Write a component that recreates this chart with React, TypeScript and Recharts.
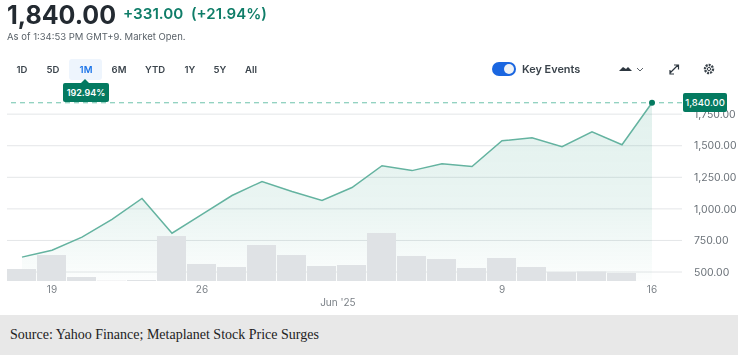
import {
  Area,
  Bar,
  CartesianGrid,
  ComposedChart,
  ReferenceDot,
  ReferenceLine,
  XAxis,
  YAxis,
} from "recharts";

const FONT = "Inter, 'Noto Sans', sans-serif";

const RANGES = ["1D", "5D", "1M", "6M", "YTD", "1Y", "5Y", "All"];
const RANGE_CENTERS = [22, 53, 86, 119, 155, 190, 220, 251];

const PRICES = [
  618, 673, 776, 917, 1083, 807, 957, 1106, 1217, 1138, 1067, 1169, 1342, 1303,
  1358, 1335, 1539, 1563, 1492, 1610, 1508, 1840,
];
// volume read as relative bar height, last session has no bar yet
const VOLUMES = [
  12, 26, 4, 0.3, 1, 45, 17, 14, 36, 26, 15, 16, 48, 25, 22, 13, 23, 14, 9, 9.5,
  8, 0,
];
const PRICE_TICKS = [500, 750, 1000, 1250, 1500, 1750];
const DATE_TICKS = [1, 6, 10.53, 16, 21];
const DATE_LABELS: Record<number, string> = {
  1: "19",
  6: "26",
  10.53: "Jun '25",
  16: "9",
  21: "16",
};

const chartData = PRICES.map((price, i) => ({
  idx: i,
  price,
  volume: VOLUMES[i],
}));

const formatPrice = (v: number) =>
  v.toLocaleString("en-US", { minimumFractionDigits: 2 });

function DateTick({ x, y, payload }: any) {
  const isMonth = payload.value === 10.53;
  return (
    <text
      x={x}
      y={isMonth ? y + 17 : y + 4}
      textAnchor="middle"
      fontSize={10}
      fontFamily={FONT}
      fill="#7b8187"
    >
      {DATE_LABELS[payload.value]}
    </text>
  );
}

function Header() {
  return (
    <>
      <div
        style={{
          position: "absolute",
          left: 7,
          top: 1,
          fontSize: 25,
          lineHeight: "28px",
          fontWeight: 700,
          color: "#232a31",
        }}
      >
        1,840.00
      </div>
      <div
        style={{
          position: "absolute",
          left: 123,
          top: 4,
          fontSize: 15.2,
          lineHeight: "20px",
          fontWeight: 600,
          color: "#0f7d68",
        }}
      >
        +331.00
      </div>
      <div
        style={{
          position: "absolute",
          left: 191,
          top: 4,
          fontSize: 15,
          lineHeight: "20px",
          fontWeight: 600,
          color: "#0f7d68",
        }}
      >
        (+21.94%)
      </div>
      <div
        style={{
          position: "absolute",
          left: 7,
          top: 30,
          fontSize: 9.5,
          lineHeight: "13px",
          color: "#5b636a",
        }}
      >
        As of 1:34:53 PM GMT+9. Market Open.
      </div>
    </>
  );
}

function RangeRow() {
  return (
    <>
      <div
        style={{
          position: "absolute",
          left: 69,
          top: 59,
          width: 33,
          height: 21,
          background: "#eef5fd",
          borderRadius: 3,
        }}
      />
      {RANGES.map((r, i) => (
        <div
          key={r}
          style={{
            position: "absolute",
            left: RANGE_CENTERS[i] - 20,
            width: 40,
            top: 62,
            textAlign: "center",
            fontSize: 9.5,
            lineHeight: "15px",
            fontWeight: 600,
            color: r === "1M" ? "#1a73e8" : "#3b444c",
          }}
        >
          {r}
        </div>
      ))}
    </>
  );
}

function Toolbar() {
  return (
    <>
      <div
        style={{
          position: "absolute",
          left: 492,
          top: 62,
          width: 24,
          height: 14,
          borderRadius: 7,
          background: "#1a66e0",
        }}
      />
      <div
        style={{
          position: "absolute",
          left: 504,
          top: 64,
          width: 10,
          height: 10,
          borderRadius: 5,
          background: "#eef2f7",
        }}
      />
      <div
        style={{
          position: "absolute",
          left: 522,
          top: 62,
          fontSize: 10.9,
          lineHeight: "15px",
          fontWeight: 600,
          color: "#3b444c",
        }}
      >
        Key Events
      </div>
      <svg
        style={{ position: "absolute", left: 615, top: 60 }}
        width={110}
        height={20}
        viewBox="0 0 110 20"
      >
        <path d="M4 11 L8 7 L11 9 L13 7 L17 11 Z" fill="#2c363f" />
        <path d="M22 8 L25 11 L28 8" fill="none" stroke="#5b636a" strokeWidth={1} />
        <path
          d="M55 13 L63 5 M55 10 V14 H59 M59 5 H63.5 V9.5"
          fill="none"
          stroke="#2c363f"
          strokeWidth={1.2}
        />
        <circle cx={94} cy={9} r={4} fill="none" stroke="#3b444c" strokeWidth={2.4} strokeDasharray="2 1" />
        <circle cx={94} cy={9} r={1.6} fill="none" stroke="#3b444c" strokeWidth={1} />
      </svg>
    </>
  );
}

export default function App() {
  return (
    <div
      style={{
        position: "absolute",
        left: 0,
        top: 0,
        width: 738,
        height: 355,
        overflow: "hidden",
        background: "#fff",
        fontFamily: FONT,
      }}
    >
      <div style={{ position: "absolute", left: 0, top: 0, width: 738, height: 315, filter: "blur(0.35px)" }}>
        <Header />
        <RangeRow />
        <Toolbar />

        <div style={{ position: "absolute", left: 0, top: 0 }}>
          <ComposedChart
            width={738}
            height={355}
            data={chartData}
            margin={{ top: 95, right: 0, left: 7, bottom: 44 }}
          >
            <defs>
              <linearGradient id="priceFill" x1="0" y1="0" x2="0" y2="1">
                <stop offset="0%" stopColor="#0b8a6c" stopOpacity={0.2} />
                <stop offset="60%" stopColor="#0b8a6c" stopOpacity={0.14} />
                <stop offset="100%" stopColor="#0b8a6c" stopOpacity={0.02} />
              </linearGradient>
            </defs>
            <CartesianGrid
              horizontal
              vertical={false}
              stroke="#e4e6e8"
              yAxisId="price"
              syncWithTicks
            />
            <XAxis
              xAxisId={0}
              dataKey="idx"
              type="number"
              domain={[-0.5, 22]}
              ticks={DATE_TICKS}
              tick={<DateTick />}
              axisLine={false}
              tickLine={false}
              height={30}
              interval={0}
              allowDataOverflow
            />
            <YAxis
              yAxisId="price"
              orientation="right"
              type="number"
              domain={[429, 1901.6]}
              ticks={PRICE_TICKS}
              tickFormatter={formatPrice}
              tick={{ fontSize: 10.5, fill: "#6b7279", fontFamily: FONT }}
              axisLine={false}
              tickLine={false}
              tickMargin={6}
              width={56}
              allowDataOverflow
            />
            <YAxis yAxisId="volume" hide type="number" domain={[0, 186]} />
            <Bar
              yAxisId="volume"
              dataKey="volume"
              fill="#dfe2e5"
              barSize={29}
              isAnimationActive={false}
            />
            <Area
              yAxisId="price"
              type="linear"
              dataKey="price"
              stroke="#64b3a0"
              strokeWidth={1.5}
              fill="url(#priceFill)"
              dot={false}
              activeDot={false}
              isAnimationActive={false}
            />
            <ReferenceLine
              yAxisId="price"
              y={1840}
              stroke="#6cc2ab"
              strokeWidth={1}
              strokeDasharray="5 4"
            />
            <ReferenceDot
              yAxisId="price"
              x={21}
              y={1840}
              r={3}
              fill="#047a60"
              stroke="none"
            />
          </ComposedChart>
        </div>

        <div
          style={{
            position: "absolute",
            left: 81,
            top: 79,
            width: 0,
            height: 0,
            borderLeft: "4px solid transparent",
            borderRight: "4px solid transparent",
            borderBottom: "4px solid #047a60",
          }}
        />
        <div
          style={{
            position: "absolute",
            left: 63,
            top: 83,
            width: 46,
            height: 19,
            background: "#047a60",
            borderRadius: 2,
            color: "#fff",
            textAlign: "center",
            fontSize: 9,
            lineHeight: "19px",
            fontWeight: 600,
          }}
        >
          192.94%
        </div>
        <div
          style={{
            position: "absolute",
            left: 683,
            top: 93,
            width: 44,
            height: 19,
            background: "#047a60",
            borderRadius: 2,
            color: "#fff",
            textAlign: "center",
            fontSize: 9.5,
            lineHeight: "19px",
            fontWeight: 500,
          }}
        >
          1,840.00
        </div>
      </div>

      <div
        style={{
          position: "absolute",
          left: 0,
          top: 315,
          width: 738,
          height: 40,
          background: "#e8e8e8",
          fontFamily: "'Liberation Serif', serif",
          fontSize: 14,
          lineHeight: "39px",
          color: "#222",
          paddingLeft: 10,
          boxSizing: "border-box",
        }}
      >
        Source: Yahoo Finance; Metaplanet Stock Price Surges
      </div>
    </div>
  );
}
